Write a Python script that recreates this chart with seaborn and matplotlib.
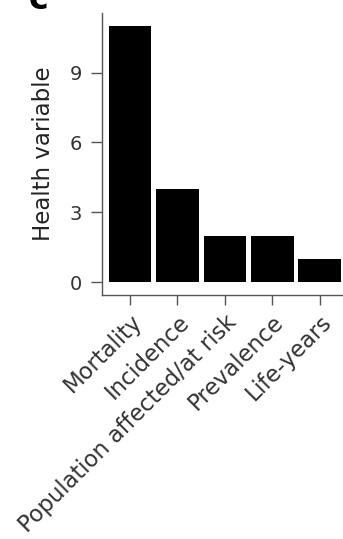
import matplotlib
matplotlib.use("Agg")
import matplotlib.pyplot as plt
import seaborn as sns
import pandas as pd

categories = ["Mortality", "Incidence", "Population affected/at risk", "Prevalence", "Life-years"]
values = [11, 4, 2, 2, 1]
yticks = [0, 3, 6, 9]
ylabel = "Health variable"
panel = "c"

sns.set_theme(style="ticks")
plt.rcParams["font.family"] = ["DejaVu Sans"]

df = pd.DataFrame({"category": categories, "value": values})

fig = plt.figure(figsize=(3.43, 5.39), dpi=100)
ax = fig.add_axes([0.2965, 0.4527, 0.718, 0.523])
sns.barplot(data=df, x="category", y="value", color="black", width=0.9,
            saturation=1, edgecolor="none", linewidth=0, ax=ax)

ax.set_xlim(-0.6, 4.6)
ax.set_ylim(-0.55, 11.55)
ax.set_yticks(yticks)
ax.set_xlabel("")
ax.set_ylabel(ylabel, fontsize=16.5, color="#222222")

textc = "#333333"
linec = "#555555"
ax.tick_params(axis="y", colors=linec, labelcolor=textc, labelsize=14,
               length=8, width=1.0, pad=6)
ax.tick_params(axis="x", colors=linec, labelcolor=textc, labelsize=16.3,
               length=7, width=1.0, pad=4)
ax.set_xticks(range(len(categories)))
ax.set_xticklabels(categories, rotation=45, ha="right", va="top",
                   rotation_mode="anchor")
ax.yaxis.set_label_coords(-0.19, 0.5)
for s in ["top", "right"]:
    ax.spines[s].set_visible(False)
for s in ["left", "bottom"]:
    ax.spines[s].set_color(linec)
    ax.spines[s].set_linewidth(1.0)

fig.text(0.111, 1 - 9 / 539, panel, fontsize=24, fontweight="bold",
         ha="center", va="baseline", color="black")

fig.savefig("out.png", dpi=100)
